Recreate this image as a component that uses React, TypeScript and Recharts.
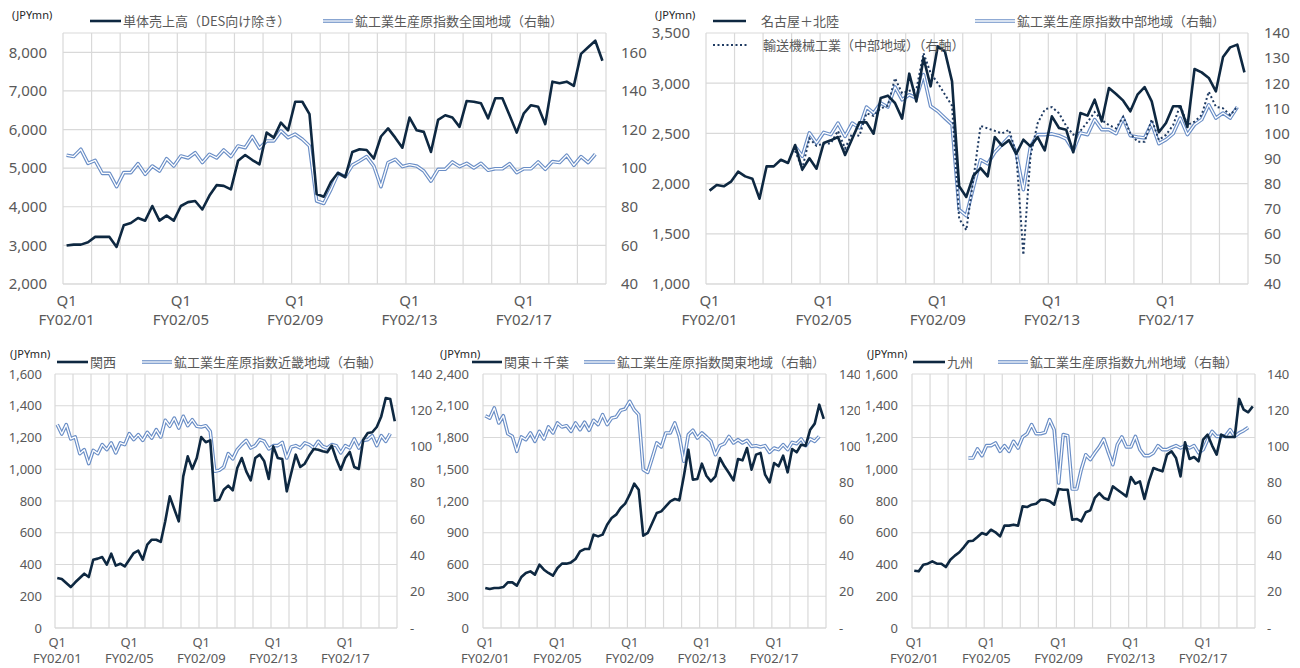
import React from 'react'
import { LineChart, Line, XAxis, YAxis, CartesianGrid } from 'recharts'

// quarterly data, Q1 FY02/01 .. Q4 FY02/19 (76 quarters)
const YEAR_LABELS = ['FY02/01', 'FY02/05', 'FY02/09', 'FY02/13', 'FY02/17']

const A_SALES = [
  2995, 3020, 3020, 3080, 3220, 3220, 3220, 2960, 3520, 3580,
  3710, 3640, 4020, 3640, 3770, 3640, 4020, 4120, 4150, 3930,
  4290, 4560, 4540, 4450, 5190, 5340, 5210, 5100, 5920, 5790,
  6180, 5980, 6720, 6720, 6400, 4330, 4260, 4640, 4880, 4770,
  5420, 5490, 5470, 5250, 5820, 6030, 5790, 5530, 6310, 5980,
  5940, 5420, 6250, 6370, 6310, 6070, 6740, 6720, 6680, 6290,
  6810, 6810, 6370, 5920, 6420, 6630, 6590, 6140, 7240, 7200,
  7240, 7130, 7960, 8130, 8300, 7780,
]
const A_IIP = [
  106.7, 106, 109.8, 102.5, 104, 97.3, 97.3, 90.4, 97.7, 97.7,
  102.3, 96.8, 101.1, 98.5, 104.9, 101.1, 106.3, 105.3, 108, 102.9,
  107.2, 105.3, 109.4, 106, 111.5, 110.6, 116.4, 110.3, 114.1, 114.1,
  119.3, 115.8, 117.6, 115, 111.5, 83, 81.7, 89, 97.3, 95.6,
  101.6, 103.7, 106, 101.1, 90.4, 102.9, 104.6, 100.8, 101.8, 101.1,
  98.5, 93.3, 99.4, 99.4, 103.2, 100.8, 102.5, 100.1, 102.5, 98.9,
  99.7, 99.7, 102.3, 97.7, 99.7, 99.7, 103.2, 99.4, 103.4, 102.9,
  106.7, 101.5, 106, 102.9, 107.2, null,
]

const B_SALES = [
  1930, 1986, 1973, 2019, 2119, 2072, 2049, 1850, 2172, 2172,
  2238, 2205, 2384, 2139, 2252, 2149, 2404, 2431, 2464, 2285,
  2447, 2610, 2610, 2497, 2853, 2876, 2803, 2647, 3095, 2819,
  3251, 2969, 3367, 3317, 3018, 1973, 1867, 2080, 2155, 2072,
  2464, 2378, 2431, 2295, 2437, 2371, 2464, 2331, 2670, 2554,
  2537, 2312, 2703, 2677, 2836, 2620, 2952, 2892, 2826, 2720,
  2886, 2962, 2819, 2511, 2604, 2770, 2770, 2564, 3141, 3108,
  3052, 2919, 3261, 3357, 3384, 3108,
]
const B_IIP = [
  null, null, null, null, null, null, null, null, null, null, null, null,
  94.8, 90.9, 100.2, 96.2, 100.4, 99.5, 104.1, 98.8, 104.1, 102.2,
  110.5, 108.1, 112.1, 110.5, 118.5, 113.4, 115.4, 114.1, 123.4, 110.8,
  108.8, 106.1, 103.5, 69.6, 67.2, 78.6, 89.5, 87.9, 92.5, 95.5,
  98.6, 92.2, 77.6, 94.8, 99.5, 99.5, 99.8, 99.1, 97.8, 93.3,
  100.2, 99.5, 105.5, 101.5, 101.5, 99.9, 106.1, 99.1, 98.6, 98.2,
  103.9, 95.9, 97.5, 99.9, 106.1, 99.5, 103.5, 105.5, 111.4, 106.1,
  108.1, 106.1, 110.5, null,
]
const B_TRANSPORT = [
  null, null, null, null, null, null, null, null, null, null, null, null,
  93, 86, 98, 95, 96, 96, 101, 94, 100, 99,
  108, 107, 110, 111, 122, 116, 117, 117.5, 132, 124,
  120, 115.5, 111, 66, 61.5, 82, 103, 102, 101, 100,
  101.4, 92, 51.6, 91, 104, 109.5, 110.5, 108, 103, 99.5,
  101, 104.5, 108.5, 105.3, 103.3, 102, 106.7, 100, 96.7, 96.7,
  105.6, 97.4, 99.4, 103.3, 111.3, 103.3, 104.7, 107.3, 116.6, 110.6,
  110, 107.3, 110.6, null,
]

const C_SALES = [
  315, 309, 283, 258, 288, 315, 342, 321, 430, 437,
  447, 399, 468, 393, 405, 388, 430, 472, 487, 430,
  525, 556, 556, 542, 672, 829, 750, 672, 955, 1081,
  1002, 1071, 1203, 1170, 1182, 802, 808, 871, 897, 867,
  1008, 1071, 987, 930, 1071, 1092, 1050, 939, 1144, 1071,
  1065, 861, 976, 1092, 1014, 1035, 1086, 1128, 1123, 1113,
  1107, 1149, 1065, 997, 1071, 1109, 1014, 1002, 1186, 1228,
  1233, 1266, 1333, 1449, 1443, 1302,
]
const C_IIP = [
  112.1, 106.9, 112.1, 104.2, 105.3, 96.1, 98.3, 90.6, 97.9, 96.1,
  101.1, 98.3, 102, 96.5, 102, 101.1, 107.1, 103.8, 106.6, 103.4,
  107.8, 104.7, 109.3, 105.3, 114.5, 111.2, 115.7, 110.2, 116.7, 111.5,
  114.8, 111.2, 110.8, 111.5, 108.4, 86.4, 86.9, 88.7, 96.1, 93.2,
  98.3, 101.1, 103.4, 99.2, 100.5, 103.8, 102.9, 98.7, 100.5, 100.5,
  102.3, 93.7, 99.8, 100.5, 99.2, 102, 101.1, 99.2, 102.9, 100.1,
  99.2, 101.1, 100.5, 96.5, 100.5, 99.2, 104.2, 99.2, 103.4, 103.8,
  106, 100.5, 106, 102.9, 107.1, null,
]

const D_SALES = [
  378, 368, 378, 378, 387, 431, 431, 400, 482, 520,
  535, 504, 598, 551, 520, 494, 567, 608, 608, 620,
  652, 724, 746, 746, 882, 866, 882, 976, 1039, 1071,
  1134, 1175, 1260, 1364, 1307, 872, 898, 992, 1087, 1102,
  1150, 1197, 1219, 1206, 1433, 1685, 1402, 1408, 1553, 1439,
  1386, 1433, 1606, 1528, 1465, 1395, 1597, 1584, 1701, 1496,
  1638, 1654, 1449, 1376, 1559, 1528, 1628, 1471, 1691, 1660,
  1732, 1723, 1874, 1931, 2110, 1975,
]
const D_IIP = [
  117, 115.7, 121.3, 113, 117, 107.1, 105.6, 97.4, 105.3, 103.8,
  107.5, 102.9, 108.4, 104.2, 110.8, 107.5, 113, 110.8, 111.5, 108.4,
  113, 109.3, 113.4, 109, 114.5, 112.1, 117.6, 112.1, 115.7, 116.3,
  120, 120.7, 124.9, 120.3, 117.6, 87.3, 85.8, 93.7, 102, 99.8,
  107.5, 107.5, 113, 105.6, 91.9, 106.6, 109, 104.7, 107.5, 105.3,
  102.9, 95.5, 100.5, 101.6, 105.6, 102, 103.8, 102, 103.4, 100.1,
  100.5, 99.8, 100.5, 96.8, 99.2, 98.3, 101.1, 98.3, 102.3, 101.6,
  104.2, 100.5, 104.2, 102.9, 105.6, null,
]

const E_SALES = [
  361, 357, 399, 405, 420, 405, 405, 384, 430, 456,
  477, 510, 546, 550, 573, 598, 588, 619, 603, 577,
  645, 645, 651, 645, 766, 762, 777, 783, 808, 808,
  798, 777, 876, 871, 871, 682, 687, 672, 729, 741,
  819, 850, 819, 808, 892, 871, 850, 829, 951, 909,
  924, 813, 924, 1008, 997, 987, 1092, 1113, 1071, 955,
  1170, 1065, 1077, 1050, 1186, 1218, 1149, 1092, 1218, 1203,
  1203, 1203, 1443, 1375, 1359, 1396,
]
const E_IIP = [
  null, null, null, null, null, null, null, null, null, null, null, null,
  93.7, 93.7, 98.7, 95, 100.5, 100.5, 102, 97.4, 100.5, 97.4,
  102.9, 99.2, 105.3, 107.1, 112.1, 107.1, 107.1, 107.8, 114.8, 109.3,
  79.9, 106.6, 106, 76.6, 76.6, 87.3, 95.5, 92.8, 96.5, 99.8,
  104.2, 96.8, 90, 101.1, 105.3, 99.8, 99.8, 105.6, 98.3, 95,
  95, 96.5, 100.5, 98.3, 98.3, 99.5, 100.5, 99.2, 100.5, 99.2,
  100.5, 96.5, 98.3, 103.8, 108.4, 105.6, 105.6, 106, 109.3, 105.6,
  107.5, 108.8, 110.5, null,
]

const NAVY = '#0e2841'
const LIGHT = '#6a8ec6'
const GRID = '#d9d9d9'
const TEXT = '#595959'
const N = 76
const X_TICKS = Array.from({ length: N / 4 + 1 }, (_, i) => i * 4)
const stepTicks = (min: number, max: number, step: number) =>
  Array.from({ length: Math.round((max - min) / step) + 1 }, (_, i) => min + i * step)

const fmtLeft = (v: number) => v.toLocaleString('en-US')
const fmtRight = (v: number) => (v === 0 ? '-' : String(v))

type Series = (number | null)[]

interface PanelProps {
  left: number
  top: number
  width: number
  height: number
  plotH: number
  axisL: number
  axisR: number
  gapL: number
  gapR: number
  marginTop: number
  xHeight: number
  sales: Series
  iip: Series
  transport?: Series
  leftDomain: [number, number]
  leftTicks: number[]
  rightDomain: [number, number]
  rightTicks: number[]
  fontSize: number
  q1Dy: number
  fyDy: number
}

function Panel(p: PanelProps) {
  const data = p.sales.map((s, i) => ({
    x: i + 0.5,
    sales: s,
    iip: p.iip[i],
    transport: p.transport ? p.transport[i] : null,
  }))
  const half = (p.width - p.axisL - p.axisR) / N / 2
  const tickFont = { fill: TEXT, fontSize: p.fontSize, fontFamily: 'Noto Sans' }
  const marginBottom = p.height - p.marginTop - p.plotH - p.xHeight

  const renderXTick = (props: any) => {
    const { x, y, payload } = props
    const v = payload.value
    if (v % 16 !== 0 || v >= N) return <g />
    return (
      <g>
        <text x={x + half} y={y + p.q1Dy} textAnchor="middle" {...tickFont}>Q1</text>
        <text x={x + half} y={y + p.fyDy} textAnchor="middle" {...tickFont}>{YEAR_LABELS[v / 16]}</text>
      </g>
    )
  }

  return (
    <div style={{ position: 'absolute', left: p.left, top: p.top }}>
      <LineChart
        width={p.width}
        height={p.height}
        data={data}
        margin={{ top: p.marginTop, right: 0, left: 0, bottom: marginBottom }}
      >
        <CartesianGrid stroke={GRID} strokeWidth={1.2} />
        <XAxis
          type="number"
          dataKey="x"
          domain={[0, N]}
          ticks={X_TICKS}
          interval={0}
          height={p.xHeight}
          axisLine={{ stroke: GRID }}
          tickLine={false}
          tickSize={0}
          tickMargin={0}
          tick={renderXTick}
        />
        <YAxis
          domain={p.leftDomain}
          ticks={p.leftTicks}
          interval={0}
          width={p.axisL}
          axisLine={false}
          tickLine={false}
          tickSize={0}
          tickMargin={p.gapL}
          tick={tickFont}
          tickFormatter={fmtLeft}
          allowDataOverflow
        />
        <YAxis
          yAxisId="r"
          orientation="right"
          domain={p.rightDomain}
          ticks={p.rightTicks}
          interval={0}
          width={p.axisR}
          axisLine={false}
          tickLine={false}
          tickSize={0}
          tickMargin={p.gapR}
          tick={{ ...tickFont, textAnchor: 'start' }}
          tickFormatter={fmtRight}
          allowDataOverflow
        />
        <Line yAxisId="r" dataKey="iip" stroke={LIGHT} strokeWidth={3.6} dot={false} activeDot={false} isAnimationActive={false} strokeLinejoin="round" />
        <Line yAxisId="r" dataKey="iip" stroke="#ffffff" strokeWidth={1.3} dot={false} activeDot={false} isAnimationActive={false} strokeLinejoin="round" />
        {p.transport && (
          <Line yAxisId="r" dataKey="transport" stroke="#1f3b63" strokeWidth={2} strokeDasharray="2 2.5" dot={false} activeDot={false} isAnimationActive={false} />
        )}
        <Line dataKey="sales" stroke={NAVY} strokeWidth={2.6} dot={false} activeDot={false} isAnimationActive={false} strokeLinejoin="round" />
      </LineChart>
    </div>
  )
}

type SwatchKind = 'solid' | 'double' | 'dotted'

function Swatch({ kind, w }: { kind: SwatchKind; w: number }) {
  return (
    <svg width={w} height={8} style={{ display: 'block' }}>
      {kind === 'solid' && <line x1={0} x2={w} y1={4} y2={4} stroke={NAVY} strokeWidth={2.6} />}
      {kind === 'double' && (
        <>
          <line x1={0} x2={w} y1={4} y2={4} stroke={LIGHT} strokeWidth={3.6} />
          <line x1={0} x2={w} y1={4} y2={4} stroke="#ffffff" strokeWidth={1.3} />
        </>
      )}
      {kind === 'dotted' && <line x1={0} x2={w} y1={4} y2={4} stroke="#1f3b63" strokeWidth={2} strokeDasharray="2 2.5" />}
    </svg>
  )
}

function LegendItem({ x, y, kind, w, label }: { x: number; y: number; kind: SwatchKind; w: number; label: string }) {
  return (
    <div style={{ position: 'absolute', left: x, top: y - 9, height: 18, display: 'flex', alignItems: 'center', whiteSpace: 'nowrap' }}>
      <Swatch kind={kind} w={w} />
      <span style={{ marginLeft: 2, fontSize: 13, color: TEXT, fontFamily: '"Noto Sans CJK JP", "Noto Sans", sans-serif', lineHeight: '18px' }}>{label}</span>
    </div>
  )
}

function Unit({ x, y }: { x: number; y: number }) {
  return (
    <div style={{ position: 'absolute', left: x, top: y - 8, fontSize: 11, lineHeight: '16px', color: '#262626', fontFamily: '"Noto Sans", sans-serif', whiteSpace: 'nowrap' }}>
      (JPYmn)
    </div>
  )
}

export default function App() {
  const top = { top: 0, height: 330, plotH: 251, marginTop: 33, xHeight: 40, fontSize: 15, q1Dy: 22, fyDy: 41 }
  const bottom = { top: 340, height: 328, plotH: 254, marginTop: 34, xHeight: 35, fontSize: 13, q1Dy: 19, fyDy: 35 }
  return (
    <div style={{ position: 'absolute', left: 0, top: 0, width: 1300, height: 668, background: '#fff', overflow: 'hidden' }}>
      <Panel {...top} left={0} width={650} axisL={63} axisR={44} gapL={16} gapR={15}
        sales={A_SALES} iip={A_IIP}
        leftDomain={[2000, 8500]} leftTicks={stepTicks(2000, 8000, 1000)}
        rightDomain={[40, 170]} rightTicks={stepTicks(40, 160, 20)} />
      <Panel {...top} left={650} width={650} axisL={56} axisR={52} gapL={16} gapR={16}
        sales={B_SALES} iip={B_IIP} transport={B_TRANSPORT}
        leftDomain={[1000, 3500]} leftTicks={stepTicks(1000, 3500, 500)}
        rightDomain={[40, 140]} rightTicks={stepTicks(40, 140, 10)} />
      <Panel {...bottom} left={0} width={436} axisL={55} axisR={39} gapL={13} gapR={13}
        sales={C_SALES} iip={C_IIP}
        leftDomain={[0, 1600]} leftTicks={stepTicks(0, 1600, 200)}
        rightDomain={[0, 140]} rightTicks={stepTicks(0, 140, 20)} />
      <Panel {...bottom} left={430} width={430} axisL={53} axisR={34} gapL={14} gapR={13}
        sales={D_SALES} iip={D_IIP}
        leftDomain={[0, 2400]} leftTicks={stepTicks(0, 2400, 300)}
        rightDomain={[0, 140]} rightTicks={stepTicks(0, 140, 20)} />
      <Panel {...bottom} left={860} width={440} axisL={52} axisR={45} gapL={14} gapR={12}
        sales={E_SALES} iip={E_IIP}
        leftDomain={[0, 1600]} leftTicks={stepTicks(0, 1600, 200)}
        rightDomain={[0, 140]} rightTicks={stepTicks(0, 140, 20)} />

      <Unit x={12} y={15} />
      <LegendItem x={90} y={21} kind="solid" w={31} label="単体売上高（DES向け除き）" />
      <LegendItem x={323} y={21} kind="double" w={30} label="鉱工業生産原指数全国地域（右軸）" />

      <Unit x={655} y={15} />
      <LegendItem x={713} y={21} kind="solid" w={33} label="　名古屋＋北陸" />
      <LegendItem x={975} y={21} kind="double" w={40} label="鉱工業生産原指数中部地域（右軸）" />
      <LegendItem x={713} y={45} kind="dotted" w={35} label="　輸送機械工業（中部地域）（右軸）" />

      <Unit x={10} y={354} />
      <LegendItem x={57} y={362} kind="solid" w={31} label="関西" />
      <LegendItem x={142} y={362} kind="double" w={30} label="鉱工業生産原指数近畿地域（右軸）" />

      <Unit x={440} y={354} />
      <LegendItem x={472} y={362} kind="solid" w={30} label="関東＋千葉" />
      <LegendItem x={584} y={362} kind="double" w={31} label="鉱工業生産原指数関東地域（右軸）" />

      <Unit x={867} y={354} />
      <LegendItem x={913} y={362} kind="solid" w={32} label="九州" />
      <LegendItem x={998} y={362} kind="double" w={30} label="鉱工業生産原指数九州地域（右軸）" />
    </div>
  )
}
